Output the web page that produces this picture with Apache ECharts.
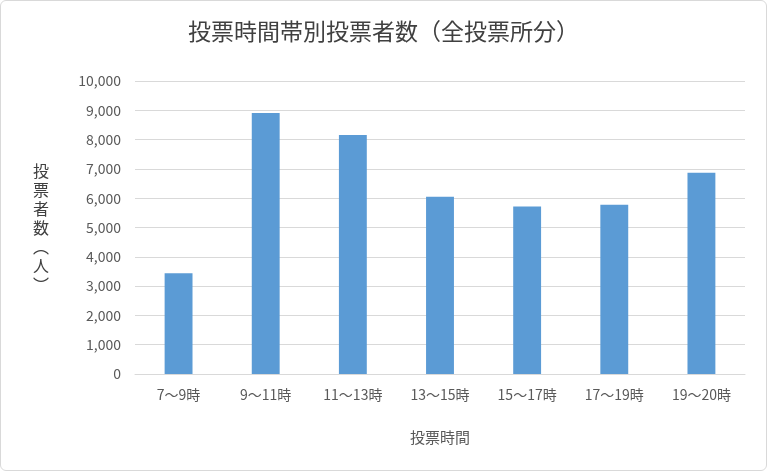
<!DOCTYPE html>
<html>
<head>
<meta charset="utf-8">
<script src="https://cdn.jsdelivr.net/npm/echarts@6/dist/echarts.min.js"></script>
<style>
    html, body {margin: 0; padding: 0; background: #fff;}
    #chart {width: 767px; height: 471px; box-sizing: border-box; border: 1px solid #d9d9d9; border-radius: 6px;}
</style>
</head>
<body>
<div id="chart"></div>
<script>
// 投票時間帯別の投票者数
var categories = ['7～9時', '9～11時', '11～13時', '13～15時', '15～17時', '17～19時', '19～20時'];
var voters = [3440, 8910, 8160, 6050, 5720, 5780, 6870];
var yTicks = [0, 10000, 1000];

var myChart = echarts.init(document.getElementById('chart'));
var font = '"Noto Sans CJK JP", sans-serif';

var option = {
    animation: false,
    title: {
        text: '投票時間帯別投票者数（全投票所分）',
        left: 'center',
        top: 14,
        textStyle: {color: '#404040', fontSize: 23, fontWeight: 'normal', fontFamily: font}
    },
    grid: {left: 134, right: 21, top: 80, bottom: 96},
    xAxis: {
        type: 'category',
        data: categories,
        name: '投票時間',
        nameLocation: 'middle',
        nameGap: 56,
        nameTextStyle: {color: '#595959', fontSize: 15, fontFamily: font},
        axisLine: {lineStyle: {color: '#d9d9d9'}},
        axisTick: {show: false},
        axisLabel: {color: '#595959', fontSize: 14, fontFamily: font, margin: 14}
    },
    yAxis: {
        type: 'value',
        min: yTicks[0],
        max: yTicks[1],
        interval: yTicks[2],
        name: '投\n票\n者\n数\n︵\n人\n︶',
        nameLocation: 'middle',
        nameRotate: 0,
        nameGap: 86,
        nameTextStyle: {color: '#404040', fontSize: 16, lineHeight: 19, fontFamily: font},
        axisLine: {show: false},
        axisTick: {show: false},
        axisLabel: {
            color: '#595959', fontSize: 14, fontFamily: font, margin: 14,
            formatter: function (v) { return v.toLocaleString('en-US'); }
        },
        splitLine: {lineStyle: {color: '#d9d9d9'}}
    },
    series: [
        {
            type: 'bar',
            data: voters,
            barWidth: '32%',
            itemStyle: {color: '#5b9bd5'}
        }
    ]
};

myChart.setOption(option);
</script>
</body>
</html>
